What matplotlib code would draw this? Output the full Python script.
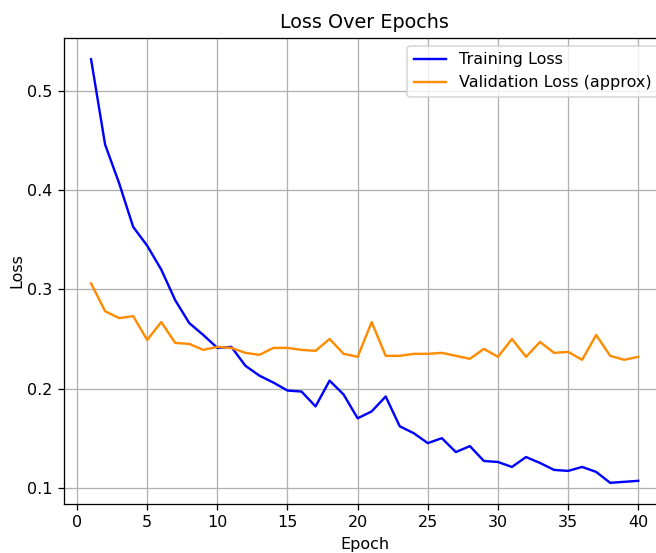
import matplotlib
matplotlib.use("Agg")
import matplotlib.pyplot as plt

epochs = list(range(1, 41))
train_loss = [0.532, 0.446, 0.407, 0.363, 0.344, 0.320, 0.289, 0.266, 0.254, 0.241,
              0.242, 0.223, 0.213, 0.206, 0.198, 0.197, 0.182, 0.208, 0.194, 0.170,
              0.177, 0.192, 0.162, 0.155, 0.145, 0.150, 0.136, 0.142, 0.127, 0.126,
              0.121, 0.131, 0.125, 0.118, 0.117, 0.121, 0.116, 0.105, 0.106, 0.107]
val_loss = [0.306, 0.278, 0.271, 0.273, 0.249, 0.267, 0.246, 0.245, 0.239, 0.242,
            0.241, 0.236, 0.234, 0.241, 0.241, 0.239, 0.238, 0.250, 0.235, 0.232,
            0.267, 0.233, 0.233, 0.235, 0.235, 0.236, 0.233, 0.230, 0.240, 0.232,
            0.250, 0.232, 0.247, 0.236, 0.237, 0.229, 0.254, 0.233, 0.229, 0.232]

DPI = 115
fig = plt.figure(figsize=(656 / DPI, 553 / DPI), dpi=DPI)
ax = fig.add_axes([63.7 / 656, 49 / 553, 601.9 / 656, 466 / 553])
ax.plot(epochs, train_loss, color="blue", lw=1.5, label="Training Loss")
ax.plot(epochs, val_loss, color="darkorange", lw=1.5, label="Validation Loss (approx)")
ax.set_title("Loss Over Epochs")
ax.set_xlabel("Epoch")
ax.set_ylabel("Loss", labelpad=1.5)
ax.set_xticks([0, 5, 10, 15, 20, 25, 30, 35, 40])
ax.grid(True)
ax.legend(loc="upper right")
fig.savefig("out.png", dpi=DPI)
